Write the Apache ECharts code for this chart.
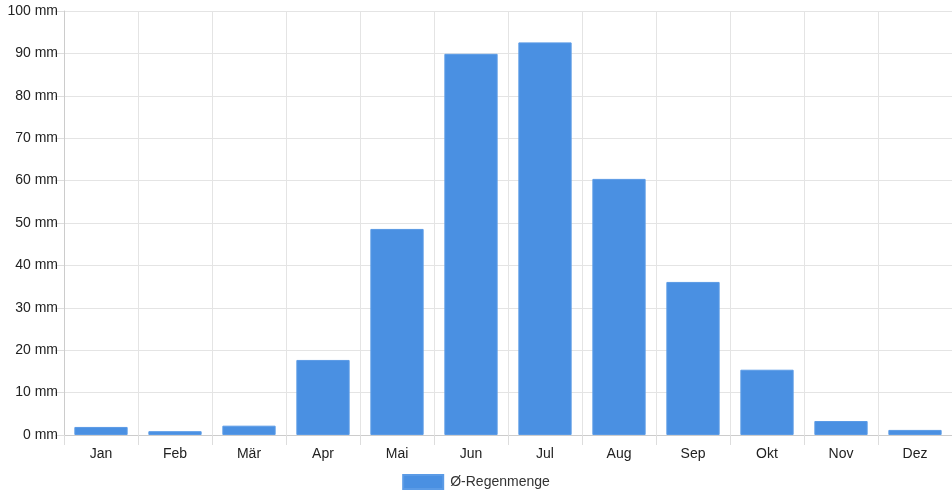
<!DOCTYPE html>
<html>
<head>
<meta charset="utf-8">
<script src="https://cdn.jsdelivr.net/npm/echarts@6/dist/echarts.min.js"></script>
<style>
  html, body { margin: 0; padding: 0; background: #fff; }
  #main { width: 952px; height: 500px; }
</style>
</head>
<body>
<div id="main"></div>
<script>
// Monatliche Regenmenge
var months = ['Jan', 'Feb', 'Mär', 'Apr', 'Mai', 'Jun', 'Jul', 'Aug', 'Sep', 'Okt', 'Nov', 'Dez'];
var rain = [1.9, 0.9, 2.2, 17.7, 48.6, 89.9, 92.6, 60.4, 36.1, 15.4, 3.3, 1.2];
var seriesName = 'Ø-Regenmenge';

var myChart = echarts.init(document.getElementById('main'));
var option = {
    animation: false,
    textStyle: {
        fontFamily: 'Liberation Sans, Arial, sans-serif'
    },
    legend: {
        bottom: 5,
        left: 'center',
        itemWidth: 40,
        itemHeight: 14,
        itemGap: 10,
        icon: 'rect',
        textStyle: {
            color: '#333',
            fontSize: 14,
            padding: [0, 0, 0, 2]
        },
        data: [seriesName]
    },
    grid: {
        left: 64,
        right: 0,
        top: 11,
        bottom: 65,
        containLabel: false
    },
    xAxis: {
        type: 'category',
        data: months,
        boundaryGap: true,
        axisLine: {
            lineStyle: { color: '#cccccc' }
        },
        axisTick: {
            show: true,
            alignWithLabel: false,
            length: 10,
            lineStyle: { color: '#dddddd' }
        },
        splitLine: {
            show: true,
            lineStyle: { color: '#e4e4e4' }
        },
        axisLabel: {
            color: '#222',
            fontSize: 14,
            margin: 12
        }
    },
    yAxis: {
        type: 'value',
        min: 0,
        max: 100,
        interval: 10,
        axisLine: {
            show: true,
            lineStyle: { color: '#cccccc' }
        },
        axisTick: {
            show: true,
            length: 9,
            lineStyle: { color: '#dddddd' }
        },
        splitLine: {
            show: true,
            lineStyle: { color: '#e4e4e4' }
        },
        axisLabel: {
            color: '#222',
            fontSize: 14,
            margin: 6,
            formatter: '{value} mm'
        }
    },
    series: [
        {
            name: seriesName,
            type: 'bar',
            data: rain,
            barCategoryGap: '28%',
            itemStyle: {
                color: '#4a90e2',
                borderColor: '#5b9be6',
                borderWidth: 1
            }
        }
    ]
};
myChart.setOption(option);
</script>
</body>
</html>
